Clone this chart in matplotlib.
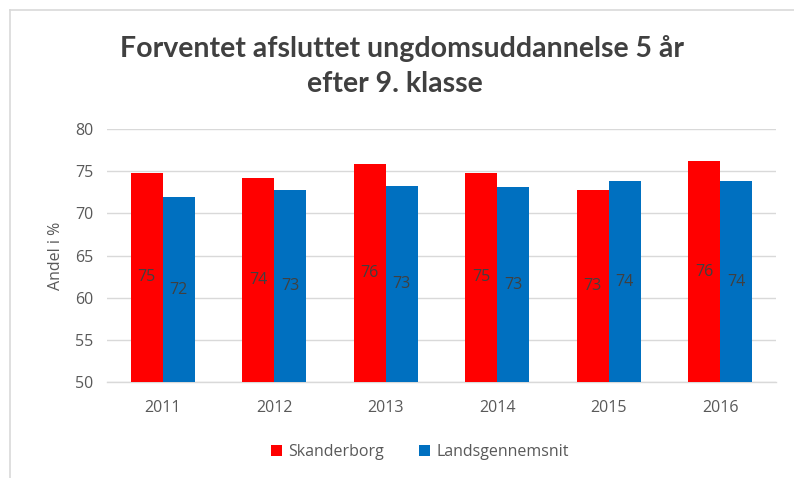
import matplotlib
matplotlib.use("Agg")
import matplotlib.pyplot as plt
import numpy as np
from matplotlib.lines import Line2D
from matplotlib.patches import Patch

years = ["2011", "2012", "2013", "2014", "2015", "2016"]
skanderborg = [74.8, 74.2, 75.9, 74.8, 72.8, 76.2]
landsgennemsnit = [71.9, 72.8, 73.2, 73.1, 73.8, 73.8]
yticks = [50, 55, 60, 65, 70, 75, 80]

W, H = 794, 478
fig = plt.figure(figsize=(W / 100, H / 100), dpi=100)
fig.patch.set_facecolor("white")

# chart border (top and left visible)
fig.add_artist(Line2D([10 / W, 1], [1 - 10 / H, 1 - 10 / H], color="#d9d9d9", lw=1.2, transform=fig.transFigure))
fig.add_artist(Line2D([10 / W, 10 / W], [0, 1 - 10 / H], color="#d9d9d9", lw=1.2, transform=fig.transFigure))

ax = fig.add_axes([107 / W, 1 - 382 / H, (776 - 107) / W, (382 - 129) / H])
x = np.arange(len(years))
bw = 0.286
red = "#FF0000"
blue = "#0070C0"
ax.bar(x - bw / 2, skanderborg, bw, color=red, zorder=3)
ax.bar(x + bw / 2, landsgennemsnit, bw, color=blue, zorder=3)

ax.set_ylim(50, 80)
ax.set_xlim(-0.5, 5.5)
ax.set_yticks(yticks)
ax.set_xticks(x)
ax.set_xticklabels(years)
ax.yaxis.grid(True, color="#d9d9d9", lw=1.0, zorder=0)
ax.set_axisbelow(True)
for s in ["top", "right", "left"]:
    ax.spines[s].set_visible(False)
ax.spines["bottom"].set_color("#d9d9d9")
ax.spines["bottom"].set_linewidth(1.0)
ax.tick_params(axis="both", length=0, labelsize=11.5, labelcolor="#595959")
ax.tick_params(axis="x", pad=13)
ax.tick_params(axis="y", pad=10)
for lab in ax.get_xticklabels() + ax.get_yticklabels():
    lab.set_fontfamily("Open Sans")

ax.set_ylabel("Andel i %", fontsize=11.5, color="#595959", family="Open Sans", labelpad=8)

# data labels centered in bar (from axis bottom to bar top)
for xi, v in zip(x - bw / 2, skanderborg):
    ax.text(xi, (50 + v) / 2, f"{round(v):d}", ha="center", va="center", fontsize=11.5,
            color="#404040", family="Open Sans", zorder=4)
for xi, v in zip(x + bw / 2, landsgennemsnit):
    ax.text(xi, (50 + v) / 2, f"{round(v):d}", ha="center", va="center", fontsize=11.5,
            color="#404040", family="Open Sans", zorder=4)

fig.text(402 / W, 1 - 48 / H, "Forventet afsluttet ungdomsuddannelse 5 år", ha="center", va="center",
         fontsize=20.5, fontweight="bold", color="#404040", family="Lato")
fig.text(395 / W, 1 - 84 / H, "efter 9. klasse", ha="center", va="center",
         fontsize=20.5, fontweight="bold", color="#404040", family="Lato")

handles = [Patch(facecolor=red, label="Skanderborg"), Patch(facecolor=blue, label="Landsgennemsnit")]
leg = fig.legend(handles=handles, loc="center", bbox_to_anchor=(420 / W, 1 - 452 / H), ncol=2,
                 frameon=False, handlelength=0.7, handleheight=0.7,
                 handletextpad=0.4, columnspacing=2.2, prop={"family": "Open Sans", "size": 11.5})
for t in leg.get_texts():
    t.set_color("#595959")

fig.savefig("out.png", dpi=100, facecolor="white")
